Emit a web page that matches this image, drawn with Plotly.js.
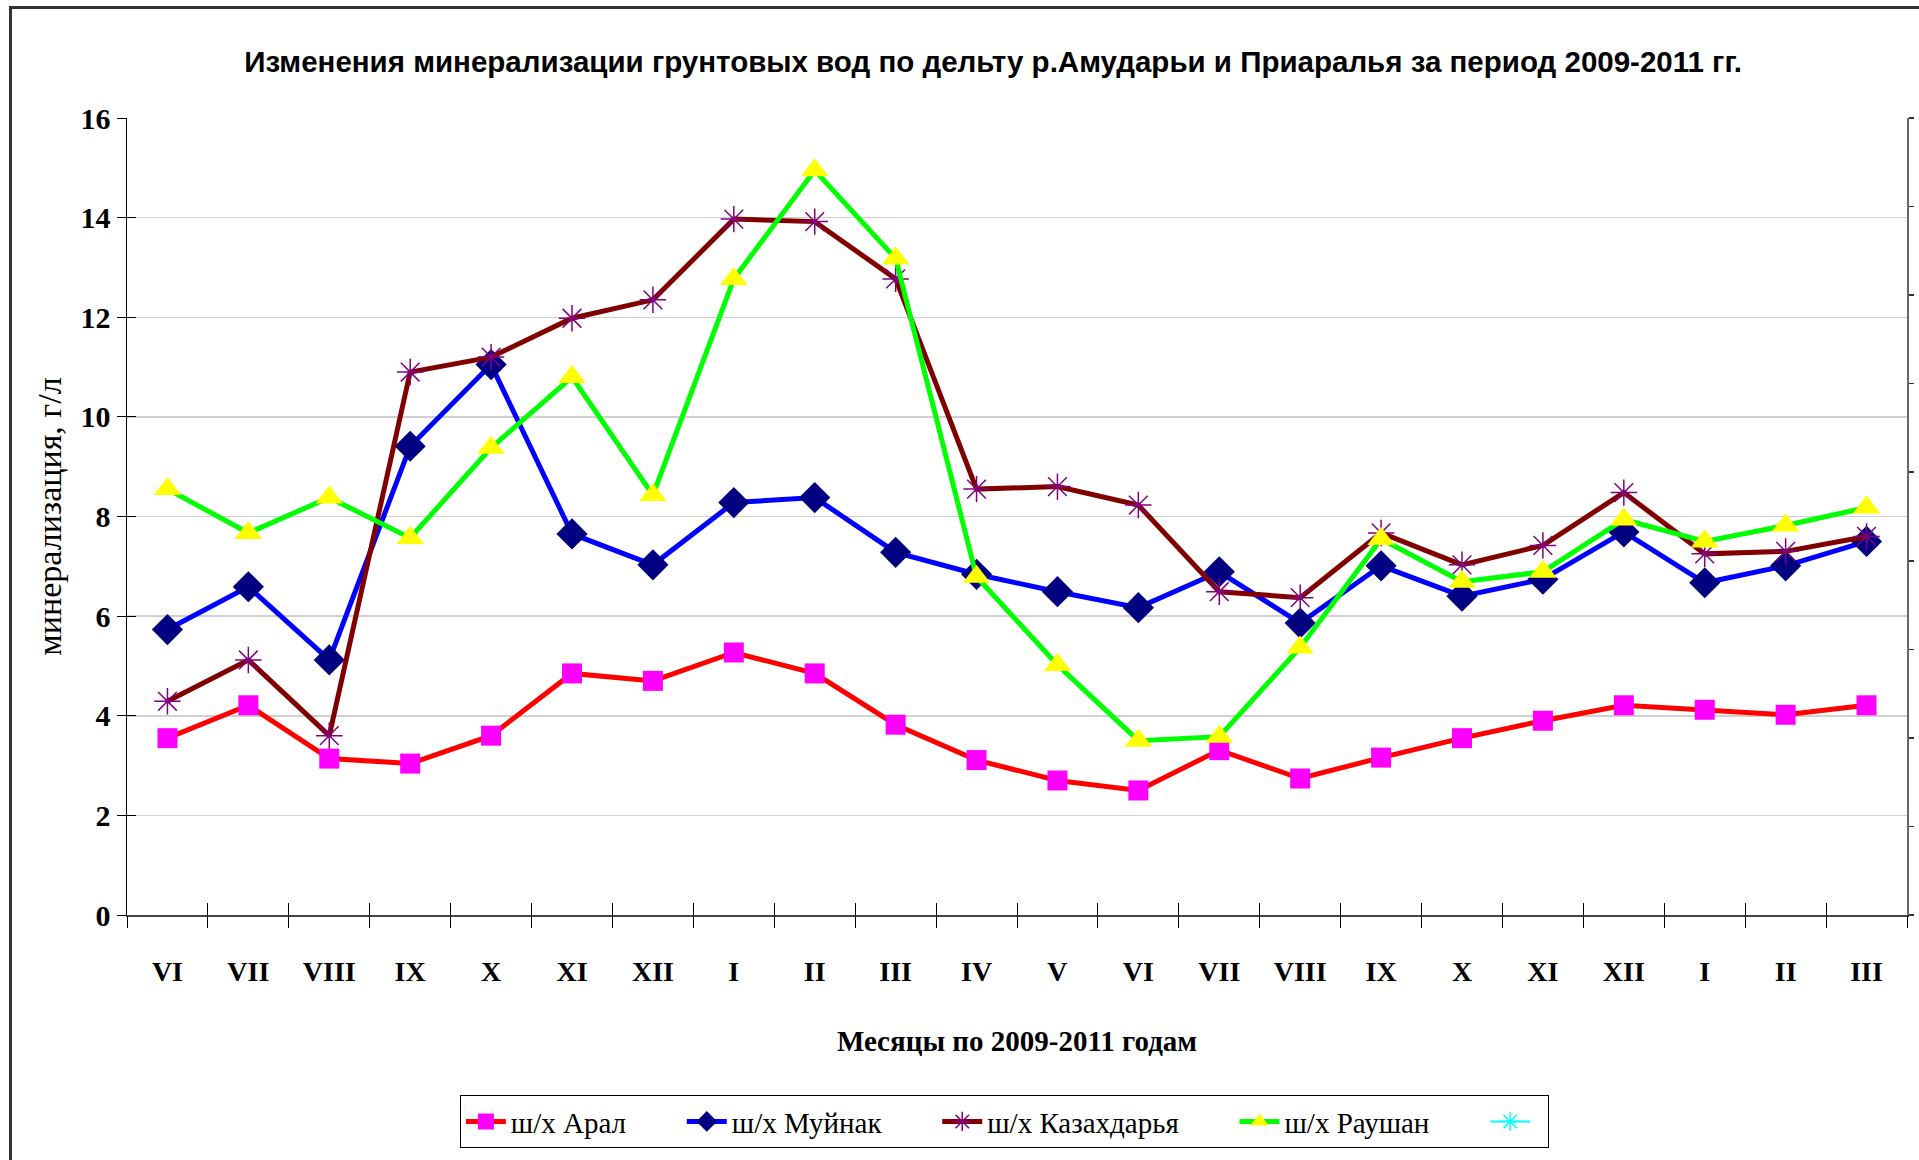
<!DOCTYPE html>
<html>
<head>
<meta charset="utf-8">
<script src="https://cdn.plot.ly/plotly-3.0.1.min.js"></script>
<style>
  html, body { margin: 0; padding: 0; background: #fff; }
  #wrap { position: relative; width: 1919px; height: 1160px; overflow: hidden; }
  #chart { position: absolute; left: 0; top: 0; width: 1919px; height: 1160px; }
  #frame { position: absolute; left: 9px; top: 6px; width: 2000px; height: 1300px;
           border-left: 3px solid #333; border-top: 3px solid #333; pointer-events: none; }
</style>
</head>
<body>
<div id="wrap">
  <div id="chart"></div>
  <div id="frame"></div>
</div>
<script>
// ---- data ----
const months = ['VI','VII','VIII','IX','X','XI','XII','I','II','III','IV','V',
                'VI','VII','VIII','IX','X','XI','XII','I','II','III'];

const aral = [3.55, 4.21, 3.14, 3.04, 3.60, 4.85, 4.70, 5.27, 4.85, 3.82, 3.11, 2.70,
              2.50, 3.31, 2.74, 3.16, 3.55, 3.90, 4.21, 4.12, 4.02, 4.21];

const muynak = [5.73, 6.59, 5.12, 9.41, 11.05, 7.65, 7.03, 8.28, 8.38, 7.28, 6.84, 6.49,
                6.17, 6.89, 5.86, 7.01, 6.40, 6.74, 7.69, 6.67, 7.01, 7.50];

const kazakhdarya = [4.29, 5.12, 3.60, 10.90, 11.20, 11.98, 12.35, 13.97, 13.92, 12.77, 8.55, 8.60,
                     8.23, 6.49, 6.37, 7.67, 7.03, 7.42, 8.48, 7.25, 7.30, 7.60];

const raushan = [8.55, 7.67, 8.38, 7.57, 9.38, 10.80, 8.43, 12.77, 14.95, 13.18, 6.79, 5.02,
                 3.50, 3.58, 5.37, 7.55, 6.69, 6.89, 7.94, 7.50, 7.82, 8.18];

// fifth legend entry of the original has no values
const emptySeries = [null, null, null, null, null, null, null, null, null, null, null, null,
                     null, null, null, null, null, null, null, null, null, null];

const seriesNames = ['ш/х Арал', 'ш/х Муйнак', 'ш/х Казахдарья', 'ш/х Раушан', ''];

const titleText = 'Изменения минерализации грунтовых вод по дельту р.Амударьи и Приаралья за период 2009-2011 гг.';
const xTitle = 'Месяцы по 2009-2011 годам';
const yTitle = 'минерализация, г/л';

// ---- build ----
const xs = months.map((_, i) => i);
const bounds = months.map((_, i) => i - 0.5).concat([months.length - 0.5]);

const serif = '"Liberation Serif", "Times New Roman", serif';
const pad = '\u00a0'.repeat(7);

function series(name, y, lineColor, symbol, mColor, size, lineW) {
  return {
    type: 'scatter', mode: 'lines+markers', name: name + pad, x: xs, y: y,
    line: { color: lineColor, width: 5 },
    marker: { symbol: symbol, size: size, color: mColor, line: { color: mColor, width: lineW } },
    hoverinfo: 'x+y'
  };
}

const traces = [
  series(seriesNames[0], aral, '#FF0000', 'square', '#FF00FF', 20, 0),
  series(seriesNames[1], muynak, '#0000FF', 'diamond', '#000080', 24, 0),
  series(seriesNames[2], kazakhdarya, '#800000', 'asterisk-open', '#800080', 22, 1.5),
  series(seriesNames[3], raushan, '#00FF00', 'triangle-up', '#FFFF00', 24, 0),
  { type: 'scatter', mode: 'lines+markers', name: seriesNames[4] + '\u00a0', x: xs, y: emptySeries,
    line: { color: '#00FFFF', width: 2 },
    marker: { symbol: 'asterisk-open', size: 16, color: '#00FFFF', line: { color: '#00FFFF', width: 1.5 } } },
  // helpers for the overlay axes (tick marks only)
  { type: 'scatter', x: [], y: [], xaxis: 'x2', yaxis: 'y', showlegend: false, hoverinfo: 'skip' },
  { type: 'scatter', x: [], y: [], xaxis: 'x3', yaxis: 'y', showlegend: false, hoverinfo: 'skip' },
  { type: 'scatter', x: [], y: [], xaxis: 'x', yaxis: 'y2', showlegend: false, hoverinfo: 'skip' },
  { type: 'scatter', x: [], y: [], xaxis: 'x', yaxis: 'y3', showlegend: false, hoverinfo: 'skip' }
];

const xr = [-0.5, months.length - 0.5];

const layout = {
  width: 1919, height: 1160,
  margin: { l: 127, r: 12, t: 118, b: 243 },
  paper_bgcolor: '#ffffff', plot_bgcolor: '#ffffff',
  showlegend: true,
  title: {
    text: titleText,
    font: { family: '"Liberation Sans Narrow", "Arial Narrow", "Liberation Sans", sans-serif', size: 29.5, weight: 'bold', color: '#000' },
    xref: 'container', x: 0.5175, xanchor: 'center',
    yref: 'container', y: 0.947, yanchor: 'middle'
  },
  xaxis: {
    range: xr, tickmode: 'array', tickvals: xs, ticktext: months,
    ticks: '', showgrid: false, zeroline: false,
    showline: true, linecolor: '#444', linewidth: 2,
    ticklabelstandoff: 30,
    tickfont: { family: serif, size: 28, weight: 'bold', color: '#000' },
    title: { text: xTitle, standoff: 45, font: { family: serif, size: 29, weight: 'bold', color: '#000' } }
  },
  xaxis2: {
    overlaying: 'x', anchor: 'y', side: 'bottom', range: xr,
    tickmode: 'array', tickvals: bounds, ticks: 'outside', ticklen: 12, tickwidth: 1, tickcolor: '#000',
    showticklabels: false, showgrid: false, zeroline: false, showline: false
  },
  xaxis3: {
    overlaying: 'x', anchor: 'y', side: 'bottom', range: xr,
    tickmode: 'array', tickvals: bounds, ticks: 'inside', ticklen: 12, tickwidth: 1, tickcolor: '#000',
    showticklabels: false, showgrid: false, zeroline: false, showline: false
  },
  yaxis: {
    range: [0, 16], dtick: 2, tick0: 0,
    showgrid: true, gridcolor: '#d0d0d0', gridwidth: 1.5,
    zeroline: false, showline: true, linecolor: '#000', linewidth: 1.5,
    ticks: 'outside', ticklen: 9, tickwidth: 1, tickcolor: '#000',
    tickfont: { family: serif, size: 30, weight: 'bold', color: '#000' },
    title: { text: yTitle, standoff: 8, font: { family: serif, size: 34, color: '#000' } }
  },
  yaxis3: {
    overlaying: 'y', anchor: 'x', side: 'left', range: [0, 16], dtick: 2,
    ticks: 'inside', ticklen: 9, tickwidth: 1, tickcolor: '#000',
    showticklabels: false, showgrid: false, zeroline: false, showline: false
  },
  yaxis2: {
    overlaying: 'y', anchor: 'x', side: 'right', range: [0, 9], dtick: 1,
    ticks: 'outside', ticklen: 5, tickwidth: 1.5, tickcolor: '#333',
    showticklabels: false, showgrid: false, zeroline: false,
    showline: true, linecolor: '#666', linewidth: 2
  },
  legend: {
    orientation: 'h', x: 0.187, xanchor: 'left', y: -0.226, yanchor: 'top',
    bgcolor: '#ffffff', bordercolor: '#000', borderwidth: 1,
    font: { family: serif, size: 29, color: '#000' },
    itemwidth: 40, traceorder: 'normal'
  }
};

Plotly.newPlot('chart', traces, layout, { displayModeBar: false, staticPlot: true });
</script>
</body>
</html>
